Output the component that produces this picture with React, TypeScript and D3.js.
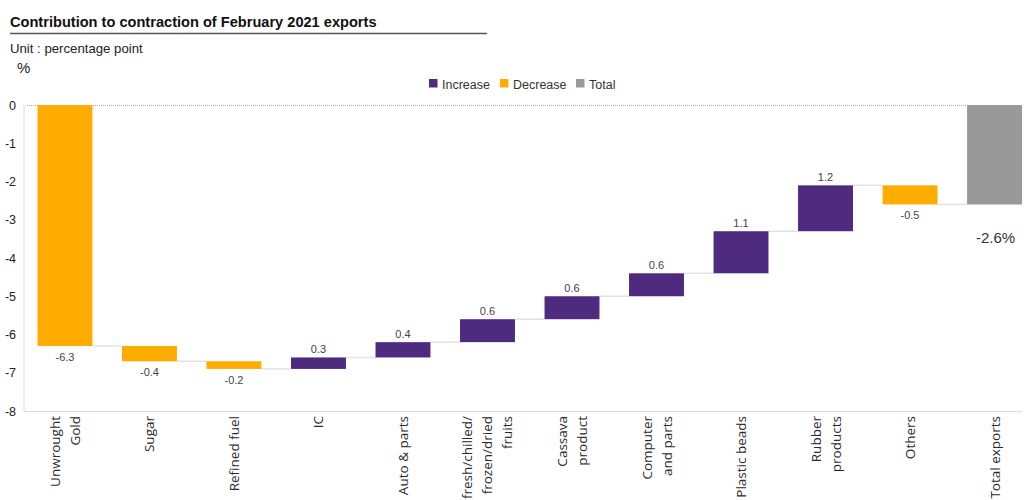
import React from "react";
import * as d3 from "d3";

const categories: string[][] = [
  ["Unwrought", "Gold"],
  ["Sugar"],
  ["Refined fuel"],
  ["IC"],
  ["Auto & parts"],
  ["fresh/chilled/", "frozen/dried", "fruits"],
  ["Cassava", "product"],
  ["Computer", "and parts"],
  ["Plastic beads"],
  ["Rubber", "products"],
  ["Others"],
  ["Total exports"],
];
const contributions: number[] = [-6.3, -0.4, -0.2, 0.3, 0.4, 0.6, 0.6, 0.6, 1.1, 1.2, -0.5];
const totalValue = -2.6;
const yTicks: number[] = [0, -1, -2, -3, -4, -5, -6, -7, -8];
const legendItems = [
  { label: "Increase", color: "#4f2b80" },
  { label: "Decrease", color: "#ffab00" },
  { label: "Total", color: "#999999" },
];

const W = 1026;
const H = 500;
const COL_INC = "#4f2b80";
const COL_DEC = "#ffab00";
const COL_TOT = "#999999";

export default function App() {
  const keys = categories.map((c) => c.join(" "));
  const x = d3.scaleBand<string>().domain(keys).range([37.5, 1022]).paddingInner(0.35).paddingOuter(0);
  const y = d3.scaleLinear().domain([0, -8]).range([105, 411]);
  const bw = x.bandwidth();

  let run = 0;
  const steps = contributions.map((v, i) => {
    const start = run;
    run = +(run + v).toFixed(4);
    return { key: keys[i], v, start, end: run };
  });
  const bars = [
    ...steps.map((s) => ({ ...s, type: s.v >= 0 ? "inc" : "dec" })),
    { key: keys[keys.length - 1], v: totalValue, start: 0, end: totalValue, type: "tot" },
  ];

  const sans = "'Liberation Sans', Arial, Helvetica, sans-serif";
  const labelFont = "'Open Sans', 'Noto Sans', sans-serif";

  return (
    <svg width={W} height={H} style={{ position: "absolute", left: 0, top: 0, background: "#fff" }} fontFamily={sans}>
      {/* title */}
      <text x={10} y={27} fontSize={14.6} fontWeight="bold" fill="#111">
        Contribution to contraction of February 2021 exports
      </text>
      <line x1={10} x2={487} y1={33.5} y2={33.5} stroke="#555" strokeWidth={1.5} />
      <text x={10} y={53} fontSize={13.2} fill="#222">Unit : percentage point</text>
      <text x={17} y={73} fontSize={15} fill="#222">%</text>

      {/* legend */}
      {(() => {
        let lx = 429;
        return legendItems.map((it) => {
          const g = (
            <g key={it.label}>
              <rect x={lx} y={79} width={8.5} height={8.5} fill={it.color} />
              <text x={lx + 13} y={88.5} fontSize={12.5} fill="#333">{it.label}</text>
            </g>
          );
          lx += it.label === "Increase" ? 71 : 76;
          return g;
        });
      })()}

      {/* axes */}
      <line x1={24} x2={24} y1={y(0)} y2={y(-8)} stroke="#dcdcdc" strokeWidth={1} />
      <line x1={24} x2={1022} y1={y(-8) + 0.5} y2={y(-8) + 0.5} stroke="#dcdcdc" strokeWidth={1} />
      {yTicks.map((t) => (
        <text key={t} x={16} y={y(t) + 4.5} fontSize={12.5} textAnchor="end" fill="#222">
          {t}
        </text>
      ))}

      {/* zero dotted line */}
      <line
        x1={27}
        x2={(x(keys[keys.length - 1]) as number)}
        y1={y(0) + 0.5}
        y2={y(0) + 0.5}
        stroke="#a8a8a8"
        strokeWidth={1}
        strokeDasharray="1,1"
      />

      {/* connectors */}
      {bars.slice(0, -1).map((b, i) => {
        const next = bars[i + 1];
        const x1 = (x(b.key) as number) + bw;
        const x2 = x(next.key) as number;
        return (
          <line key={"c" + i} x1={x1} x2={x2} y1={y(b.end)} y2={y(b.end)} stroke="#e2e2e2" strokeWidth={1.5} />
        );
      })}

      {/* bars */}
      {bars.map((b, i) => {
        const top = y(Math.max(b.start, b.end));
        const bot = y(Math.min(b.start, b.end));
        const fill = b.type === "inc" ? COL_INC : b.type === "dec" ? COL_DEC : COL_TOT;
        return <rect key={"b" + i} x={x(b.key)} y={top} width={bw} height={bot - top} fill={fill} />;
      })}

      {/* value labels */}
      {bars.map((b, i) => {
        const cx = (x(b.key) as number) + bw / 2;
        if (b.type === "tot") {
          return (
            <text key={"v" + i} x={cx + 1} y={y(b.end) + 38.5} fontSize={15} textAnchor="middle" fill="#333">
              {b.v.toFixed(1)}%
            </text>
          );
        }
        if (b.type === "inc") {
          return (
            <text key={"v" + i} x={cx} y={y(b.end) - 4} fontSize={11} textAnchor="middle" fill="#444">
              {b.v.toFixed(1)}
            </text>
          );
        }
        return (
          <text key={"v" + i} x={cx} y={y(b.end) + 15} fontSize={11} textAnchor="middle" fill="#444">
            {b.v.toFixed(1)}
          </text>
        );
      })}

      {/* category labels */}
      {categories.map((lines, i) => {
        const cx = (x(keys[i]) as number) + bw / 2;
        const lh = 20;
        return lines.map((ln, j) => {
          const lx = cx + (j - (lines.length - 1) / 2) * lh + 5;
          return (
            <text
              key={"l" + i + "_" + j}
              transform={`translate(${lx},416) rotate(-90)`}
              fontSize={13.5}
              textAnchor="end"
              fill="#2a2a2a"
              fontFamily={labelFont}
            >
              {ln}
            </text>
          );
        });
      })}
    </svg>
  );
}
